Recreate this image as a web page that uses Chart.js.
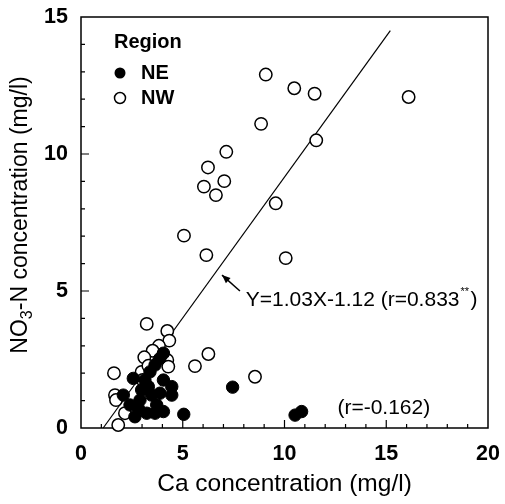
<!DOCTYPE html>
<html>
<head>
<meta charset="utf-8">
<script src="https://cdn.jsdelivr.net/npm/chart.js@4.4.0/dist/chart.umd.min.js"></script>
<style>
  html, body { margin: 0; padding: 0; background: #fff; }
</style>
</head>
<body>
<canvas id="caChart" width="505" height="504"></canvas>
<script>
// Valores (Ca x NO3-N, mg/l)
const neCa  = [2.57, 4.46, 4.46, 7.45, 5.05, 2.08, 4.05, 3.88, 3.64, 3.39, 3.14, 2.98, 2.90, 2.82, 3.47, 3.88, 3.72, 4.05, 3.23, 3.64, 2.41, 2.65, 4.05, 3.31, 10.52, 10.84];
const neNO3 = [1.81, 1.51, 1.20, 1.49, 0.50, 1.20, 2.73, 2.54, 2.30, 2.05, 1.75, 1.39, 1.02, 0.72, 1.20, 1.27, 0.84, 0.60, 0.54, 0.54, 0.84, 0.41, 1.75, 1.51, 0.47, 0.60];

const nwCa  = [9.08, 10.48, 11.48, 16.10, 8.85, 11.56, 7.14, 6.24, 7.04, 6.04, 6.63, 9.57, 5.06, 6.16, 10.06, 3.23, 4.24, 4.34, 3.83, 3.52, 3.11, 4.24, 4.29, 5.60, 6.26, 8.55, 1.62, 1.67, 1.72, 1.83, 2.98, 3.31, 3.03, 2.16];
const nwNO3 = [12.90, 12.40, 12.20, 12.08, 11.10, 10.50, 10.08, 9.51, 9.01, 8.81, 8.50, 8.20, 7.02, 6.31, 6.20, 3.80, 3.54, 3.19, 3.00, 2.82, 2.58, 2.48, 2.24, 2.26, 2.70, 1.87, 2.00, 1.20, 1.02, 0.11, 2.05, 2.27, 1.75, 0.54];

// Reta de regressão (extremos)
const fitCa  = [1.09, 15.2];
const fitNO3 = [0, 14.5];

const xTicks = [0, 5, 10, 15, 20];
const yTicks = [0, 5, 10, 15];

const toPoints = (xs, ys) => xs.map((x, i) => ({ x: x, y: ys[i] }));

const FONT = '"Liberation Sans", Arial, Helvetica, sans-serif';

// Desenha moldura, ticks internos, legenda, títulos e anotações
const decorPlugin = {
    id: 'decor',
    beforeDatasetsDraw(chart) {
        const { ctx, chartArea: a, scales: { x, y } } = chart;
        ctx.save();
        ctx.strokeStyle = '#000';
        ctx.lineWidth = 1.5;
        ctx.strokeRect(a.left, a.top, a.right - a.left, a.bottom - a.top);
        ctx.lineWidth = 1.2;
        ctx.beginPath();
        for (let v = 1; v < 20; v++) {
            const px = x.getPixelForValue(v);
            const len = v % 5 === 0 ? 8 : 4;
            ctx.moveTo(px, a.bottom);
            ctx.lineTo(px, a.bottom - len);
        }
        for (let v = 1; v < 15; v++) {
            const py = y.getPixelForValue(v);
            const len = v % 5 === 0 ? 8 : 4;
            ctx.moveTo(a.left, py);
            ctx.lineTo(a.left + len, py);
        }
        ctx.stroke();
        ctx.restore();
    },
    afterDraw(chart) {
        const { ctx, scales: { x, y } } = chart;
        ctx.save();
        ctx.fillStyle = '#000';
        ctx.strokeStyle = '#000';

        // Legenda
        ctx.textBaseline = 'middle';
        ctx.textAlign = 'left';
        ctx.font = 'bold 20px ' + FONT;
        ctx.fillText('Region', 114, 42);
        ctx.beginPath();
        ctx.arc(120, 73, 5.5, 0, Math.PI * 2);
        ctx.fill();
        ctx.fillText('NE', 141, 73);
        ctx.lineWidth = 1.5;
        ctx.beginPath();
        ctx.arc(120, 98, 5.5, 0, Math.PI * 2);
        ctx.stroke();
        ctx.fillText('NW', 141, 98);

        // Título do eixo Y com subscrito
        ctx.save();
        ctx.translate(21, 215);
        ctx.rotate(-Math.PI / 2);
        const mainFont = '23px ' + FONT;
        const subFont = '16px ' + FONT;
        const p1 = 'NO', p3 = '-N concentration (mg/l)';
        ctx.font = mainFont;
        const w1 = ctx.measureText(p1).width;
        const w3 = ctx.measureText(p3).width;
        ctx.font = subFont;
        const w2 = ctx.measureText('3').width;
        const sx = -(w1 + w2 + w3) / 2;
        ctx.font = mainFont;
        ctx.fillText(p1, sx, 0);
        ctx.font = subFont;
        ctx.fillText('3', sx + w1, 7);
        ctx.font = mainFont;
        ctx.fillText(p3, sx + w1 + w2, 0);
        ctx.restore();

        // Seta e equação
        const tipX = x.getPixelForValue(6.93), tipY = y.getPixelForValue(5.58);
        const tailX = x.getPixelForValue(7.81), tailY = y.getPixelForValue(5.0);
        ctx.lineWidth = 1.5;
        ctx.beginPath();
        ctx.moveTo(tailX, tailY);
        ctx.lineTo(tipX, tipY);
        ctx.stroke();
        const ang = Math.atan2(tipY - tailY, tipX - tailX);
        ctx.beginPath();
        ctx.moveTo(tipX, tipY);
        ctx.lineTo(tipX - 9 * Math.cos(ang - 0.4), tipY - 9 * Math.sin(ang - 0.4));
        ctx.lineTo(tipX - 9 * Math.cos(ang + 0.4), tipY - 9 * Math.sin(ang + 0.4));
        ctx.closePath();
        ctx.fill();

        ctx.font = '21px ' + FONT;
        const eq = 'Y=1.03X-1.12 (r=0.833';
        const ex = x.getPixelForValue(8.1), ey = y.getPixelForValue(4.65);
        ctx.fillText(eq, ex, ey);
        const we = ctx.measureText(eq).width;
        ctx.font = '11px ' + FONT;
        ctx.fillText('**', ex + we + 1, ey - 9);
        ctx.font = '21px ' + FONT;
        ctx.fillText(')', ex + we + 11, ey);

        ctx.fillText('(r=-0.162)', x.getPixelForValue(12.6), y.getPixelForValue(0.73));
        ctx.restore();
    }
};

new Chart(document.getElementById('caChart'), {
    type: 'scatter',
    data: {
        datasets: [
            {
                label: 'NE',
                data: toPoints(neCa, neNO3),
                pointRadius: 6.2,
                pointBackgroundColor: '#000',
                pointBorderColor: '#000',
                pointBorderWidth: 1,
                clip: false
            },
            {
                label: 'NW',
                data: toPoints(nwCa, nwNO3),
                pointRadius: 6.2,
                pointBackgroundColor: '#fff',
                pointBorderColor: '#000',
                pointBorderWidth: 1.5,
                clip: false
            },
            {
                type: 'line',
                label: 'fit',
                data: toPoints(fitCa, fitNO3),
                borderColor: '#000',
                borderWidth: 1.2,
                pointRadius: 0,
                fill: false,
                clip: false
            }
        ]
    },
    options: {
        responsive: false,
        animation: false,
        layout: { padding: { left: 0, top: 17, right: 17, bottom: 0 } },
        plugins: {
            legend: { display: false },
            tooltip: { enabled: false }
        },
        scales: {
            x: {
                type: 'linear',
                min: 0,
                max: 20,
                afterFit: (s) => { s.height = 76; s.paddingLeft = 0; s.paddingRight = 0; },
                afterBuildTicks: (s) => { s.ticks = xTicks.map(v => ({ value: v })); },
                grid: { display: false, drawTicks: false },
                border: { display: false },
                ticks: {
                    padding: 13,
                    color: '#000',
                    font: { family: FONT, size: 21.5, weight: 'bold' }
                },
                title: {
                    display: true,
                    text: 'Ca concentration (mg/l)',
                    color: '#000',
                    font: { family: FONT, size: 24.5 },
                    padding: { top: 0, bottom: 5 }
                }
            },
            y: {
                type: 'linear',
                min: 0,
                max: 15,
                afterFit: (s) => { s.width = 81; s.paddingTop = 0; s.paddingBottom = 0; },
                afterBuildTicks: (s) => { s.ticks = yTicks.map(v => ({ value: v })); },
                grid: { display: false, drawTicks: false },
                border: { display: false },
                ticks: {
                    padding: 13,
                    color: '#000',
                    font: { family: FONT, size: 21.5, weight: 'bold' }
                }
            }
        }
    },
    plugins: [decorPlugin]
});
</script>
</body>
</html>
